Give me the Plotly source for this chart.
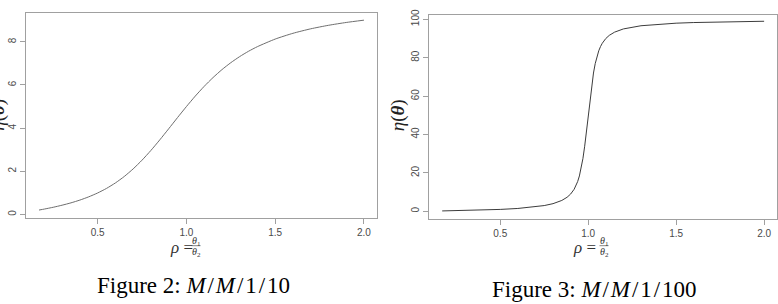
import plotly.graph_objects as go

W, H = 778, 304

# ---- data (M/M/1/10 and M/M/1/100 mean queue length) ----
rho_k10 = [0.17, 0.2, 0.25, 0.3, 0.35, 0.4, 0.45, 0.5, 0.55, 0.6, 0.65, 0.7, 0.75,
           0.8, 0.85, 0.9, 0.95, 1.0, 1.05, 1.1, 1.15, 1.2, 1.25, 1.3, 1.35, 1.4,
           1.5, 1.6, 1.7, 1.8, 1.9, 2.0]
eta_k10 = [0.205, 0.25, 0.333, 0.429, 0.538, 0.666, 0.817, 0.995, 1.207, 1.460,
           1.760, 2.111, 2.515, 2.966, 3.456, 3.969, 4.490, 5.0, 5.486, 5.936,
           6.345, 6.711, 7.034, 7.317, 7.564, 7.778, 8.129, 8.396, 8.604, 8.767,
           8.898, 9.005]

rho_k100 = [0.17, 0.2, 0.3, 0.4, 0.5, 0.6, 0.7, 0.75, 0.8, 0.85, 0.88, 0.9, 0.92,
            0.93, 0.94, 0.95, 0.96, 0.97, 0.98, 0.985, 0.99, 0.995, 1.0, 1.005,
            1.01, 1.015, 1.02, 1.025, 1.03, 1.04, 1.05, 1.06, 1.07, 1.08, 1.1,
            1.12, 1.15, 1.2, 1.3, 1.4, 1.5, 1.6, 1.7, 1.8, 1.9, 2.0]
eta_k100 = [0.205, 0.25, 0.429, 0.667, 1.0, 1.5, 2.333, 3.0, 4.0, 5.667, 7.333,
            8.998, 11.478, 13.22, 15.47, 18.43, 22.34, 27.45, 33.91, 37.62, 41.60,
            45.74, 50.0, 54.22, 58.32, 62.20, 65.81, 69.09, 72.04, 76.96, 80.74,
            83.61, 85.82, 87.54, 90.01, 91.67, 93.33, 95.0, 96.67, 97.5, 98.0,
            98.33, 98.57, 98.75, 98.89, 99.0]

x_ticks = [0.5, 1.0, 1.5, 2.0]
x_tick_labels = ["0.5", "1.0", "1.5", "2.0"]
y_ticks_k10 = [0, 2, 4, 6, 8]
y_tick_labels_k10 = ["0", "2", "4", "6", "8"]
y_ticks_k100 = [0, 20, 40, 60, 80, 100]
y_tick_labels_k100 = ["0", "20", "40", "60", "80", "100"]

y_title = "<i>η</i>(<b><i>θ</i></b>)"
captions = ["Figure 2: <i>M</i>\u200a/\u200a<i>M</i>\u200a/\u200a1\u200a/\u200a10",
            "Figure 3: <i>M</i>\u200a/\u200a<i>M</i>\u200a/\u200a1\u200a/\u200a100"]


def px(x):
    return x / W


def py(y):
    return 1 - y / H


BOX = "#a0a0a0"
TICKTXT = "#4a4a4a"
SERIF = "Liberation Serif, Times New Roman, serif"
SANS = "Liberation Sans, Arial, sans-serif"

fig = go.Figure()
fig.add_trace(go.Scatter(x=rho_k10, y=eta_k10, mode="lines",
                         line=dict(color="#6e6e6e", width=1, shape="spline", smoothing=0.6),
                         xaxis="x", yaxis="y", showlegend=False, hoverinfo="skip"))
fig.add_trace(go.Scatter(x=rho_k100, y=eta_k100, mode="lines",
                         line=dict(color="#3c3c3c", width=1),
                         xaxis="x2", yaxis="y2", showlegend=False, hoverinfo="skip"))

common = dict(showline=True, mirror=True, linecolor=BOX, linewidth=1,
              ticks="outside", ticklen=5, tickwidth=1, tickcolor=BOX,
              showgrid=False, zeroline=False,
              tickfont=dict(family=SANS, size=10, color=TICKTXT))

fig.update_layout(
    width=W, height=H,
    margin=dict(l=0, r=0, t=0, b=0),
    paper_bgcolor="white", plot_bgcolor="white",
    xaxis=dict(domain=[px(26), px(377)], range=[0.0967, 2.0733], anchor="y",
               tickvals=x_ticks, ticktext=x_tick_labels, **common),
    yaxis=dict(domain=[py(216), py(6.7)], range=[-0.152, 9.357], anchor="x",
               tickvals=y_ticks_k10, ticktext=y_tick_labels_k10, tickangle=-90, **common),
    xaxis2=dict(domain=[px(429.3), px(777)], range=[0.0967, 2.0733], anchor="y2",
                tickvals=x_ticks, ticktext=x_tick_labels, **common),
    yaxis2=dict(domain=[py(217.3), py(9.3)], range=[-4.0, 102.2], anchor="x2",
                tickvals=y_ticks_k100, ticktext=y_tick_labels_k100, tickangle=-90, **common),
)

ann = []
# y-axis titles (the left one is partly cut off at the page edge, as in the original)
ann.append(dict(x=px(-2), y=py(111), xref="paper", yref="paper", text=y_title,
                textangle=-90, showarrow=False, xanchor="center", yanchor="middle",
                font=dict(family=SERIF, size=19, color="#222")))
ann.append(dict(x=px(397.5), y=py(112), xref="paper", yref="paper", text=y_title,
                textangle=-90, showarrow=False, xanchor="center", yanchor="middle",
                font=dict(family=SERIF, size=19, color="#222")))

# x-axis titles: rho = theta1 / theta2
for (rx, fx, ry) in [(181, 196, 246), (584, 604, 246)]:
    ann.append(dict(x=px(rx), y=py(ry), xref="paper", yref="paper",
                    text="<i>ρ</i> =", showarrow=False, xanchor="center", yanchor="middle",
                    font=dict(family=SERIF, size=17, color="#333")))
    ann.append(dict(x=px(fx), y=py(ry - 6), xref="paper", yref="paper",
                    text="<i>θ</i><sub>1</sub>", showarrow=False, xanchor="center",
                    yanchor="middle", font=dict(family=SERIF, size=10, color="#333")))
    ann.append(dict(x=px(fx), y=py(ry + 5), xref="paper", yref="paper",
                    text="<i>θ</i><sub>2</sub>", showarrow=False, xanchor="center",
                    yanchor="middle", font=dict(family=SERIF, size=10, color="#333")))

# captions
ann.append(dict(x=px(193), y=py(285), xref="paper", yref="paper", text=captions[0],
                showarrow=False, xanchor="center", yanchor="middle",
                font=dict(family=SERIF, size=23, color="black")))
ann.append(dict(x=px(594), y=py(289), xref="paper", yref="paper", text=captions[1],
                showarrow=False, xanchor="center", yanchor="middle",
                font=dict(family=SERIF, size=23, color="black")))

fig.update_layout(annotations=ann)

# fraction bars
for (a, b, yy) in [(191.5, 200.5, 244.5), (599.5, 608.5, 244.5)]:
    fig.add_shape(type="line", xref="paper", yref="paper",
                  x0=px(a), x1=px(b), y0=py(yy), y1=py(yy),
                  line=dict(color="#555", width=0.7))

fig.write_html("out.html")
